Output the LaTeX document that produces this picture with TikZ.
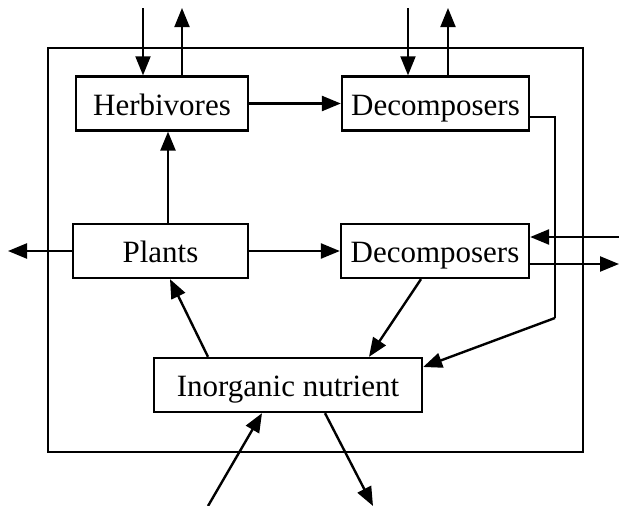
\documentclass[tikz,border=0pt]{standalone}
\usepackage{fontspec}
\setmainfont{Liberation Serif}
\usetikzlibrary{arrows.meta}
\begin{document}
\begin{tikzpicture}[x=1pt,y=-1pt,
  box/.style={draw,line width=2.3pt,inner sep=0pt,minimum height=54pt,text height=24pt,text depth=0.6pt,font=\fontsize{31}{36}\selectfont},
  arr/.style={line width=2.4pt,-{Triangle[length=19pt,width=15pt]}},
  thin/.style={line width=1.6pt}]
\useasboundingbox (0,0) rectangle (619,506);
\draw[line width=2.3pt] (48,48) rectangle (583,452);
\node[box,minimum width=172pt] (herb) at (162,103.5) {Herbivores};
\node[box,minimum width=187pt] (dtop) at (435.5,103.5) {Decomposers};
\node[box,minimum width=175pt] (plants) at (160.5,251) {Plants};
\node[box,minimum width=188pt] (dmid) at (435,251) {Decomposers};
\node[box,minimum width=268pt] (inorg) at (288,385) {Inorganic nutrient};
% top arrows
\coordinate (h1) at (143,8);
\coordinate (h2) at (182,8);
\coordinate (d1) at (408,8);
\coordinate (d2) at (448,8);
\draw[arr,line width=1.9pt] (h1) -- (h1 |- herb.north);
\draw[arr,line width=1.9pt] (h2 |- herb.north) -- (h2);
\draw[arr,line width=1.9pt] (d1) -- (d1 |- dtop.north);
\draw[arr,line width=1.9pt] (d2 |- dtop.north) -- (d2);
% internal
\draw[arr] (herb.east) -- (dtop.west);
\draw[arr] (plants.east) -- (dmid.west);
\coordinate (pu) at (168,0);
\draw[arr] (pu |- plants.north) -- (pu |- herb.south);
\coordinate (pl) at (8,251);
\draw[arr] (plants.west) -- (pl);
% right side
\coordinate (ri) at (619,237);
\coordinate (ro) at (619,264);
\draw[arr] (ri) -- (ri -| dmid.east);
\draw[arr] (ro -| dmid.east) -- (ro);
\coordinate (c1) at (555,117);
\coordinate (c2) at (555,318);
\coordinate (ie) at (0,367);
\draw[thin] (c1 -| dtop.east) -- (c1) -- (c2);
\draw[arr] (c2) -- (ie -| inorg.east);
% inorganic links
\coordinate (a1) at (208,0);
\coordinate (a2) at (170,0);
\draw[arr] (a1 |- inorg.north) -- (a2 |- plants.south);
\coordinate (b1) at (421,0);
\coordinate (b2) at (369,0);
\draw[arr] (b1 |- dmid.south) -- (b2 |- inorg.north);
% bottom
\coordinate (bi) at (208,506);
\coordinate (bit) at (262,0);
\draw[arr] (bi) -- (bit |- inorg.south);
\coordinate (bo) at (373,506);
\coordinate (bos) at (325,0);
\draw[arr] (bos |- inorg.south) -- (bo);
\end{tikzpicture}
\end{document}
